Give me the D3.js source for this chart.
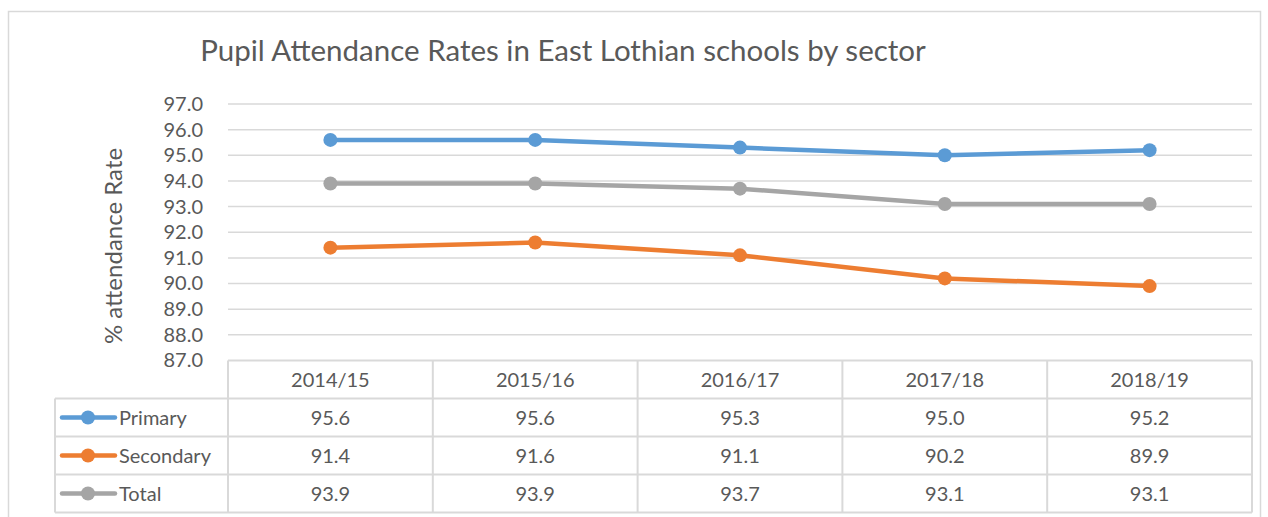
<!DOCTYPE html>
<html>
<head>
<meta charset="utf-8">
<script src="https://cdn.jsdelivr.net/npm/d3@7"></script>
<style>
  body { margin: 0; background: #fff; }
  text { font-family: Lato, "Open Sans", sans-serif; fill: #595959; }
</style>
</head>
<body>
<script>
var years = ["2014/15", "2015/16", "2016/17", "2017/18", "2018/19"];
var primary = [95.6, 95.6, 95.3, 95.0, 95.2];
var secondary = [91.4, 91.6, 91.1, 90.2, 89.9];
var total = [93.9, 93.9, 93.7, 93.1, 93.1];
var yTicks = [87, 88, 89, 90, 91, 92, 93, 94, 95, 96, 97];

var series = [
	{ name: "Primary", values: primary, color: "#5b9bd5" },
	{ name: "Secondary", values: secondary, color: "#ed7d31" },
	{ name: "Total", values: total, color: "#a5a5a5" }
];

var w = 1268, h = 517;
var plotLeft = 228, plotRight = 1252, plotTop = 104, plotBottom = 360.5;
var tableLeft = 55, rowH = 38;

var svg = d3.select("body").append("svg")
	.attr("width", w)
	.attr("height", h);

// outer chart border
svg.append("rect")
	.attr("x", 8.5).attr("y", 11.5)
	.attr("width", 1252).attr("height", 520)
	.attr("fill", "none")
	.attr("stroke", "#d9d9d9")
	.attr("stroke-width", 1.5);

svg.append("text")
	.attr("x", 563).attr("y", 61)
	.attr("text-anchor", "middle")
	.attr("font-size", "29.5px")
	.text("Pupil Attendance Rates in East Lothian schools by sector");

var x = d3.scaleBand().domain(years).range([plotLeft, plotRight]);
var y = d3.scaleLinear().domain([87, 97]).range([plotBottom, plotTop]);

// gridlines
svg.selectAll(".grid")
	.data(yTicks.slice(1))
	.enter()
	.append("line")
	.attr("x1", plotLeft).attr("x2", plotRight)
	.attr("y1", function(d) { return y(d); })
	.attr("y2", function(d) { return y(d); })
	.attr("stroke", "#d9d9d9")
	.attr("stroke-width", 1.5);

var yAxis = svg.append("g")
	.attr("transform", "translate(" + (plotLeft - 22) + ",0)")
	.call(d3.axisLeft(y).tickValues(yTicks).tickFormat(d3.format(".1f")).tickSize(0));
yAxis.select(".domain").remove();
yAxis.selectAll("text")
	.attr("font-size", "20px")
	.style("font-family", "Lato, 'Open Sans', sans-serif")
	.attr("fill", "#595959");

svg.append("text")
	.attr("transform", "translate(122,246) rotate(-90)")
	.attr("text-anchor", "middle")
	.attr("font-size", "24px")
	.text("% attendance Rate");

// lines and markers
var line = d3.line()
	.x(function(d, i) { return x(years[i]) + x.bandwidth() / 2; })
	.y(function(d) { return y(d); });

series.forEach(function(s) {
	svg.append("path")
		.datum(s.values)
		.attr("d", line)
		.attr("fill", "none")
		.attr("stroke", s.color)
		.attr("stroke-width", 4.5)
		.attr("stroke-linejoin", "round");
	svg.selectAll(null)
		.data(s.values)
		.enter()
		.append("circle")
		.attr("cx", function(d, i) { return x(years[i]) + x.bandwidth() / 2; })
		.attr("cy", function(d) { return y(d); })
		.attr("r", 7)
		.attr("fill", s.color);
});

// data table
var tbl = svg.append("g");
var tableBottom = plotBottom + rowH * 4;
var gridStyle = function(sel) {
	return sel.attr("stroke", "#d9d9d9").attr("stroke-width", 2);
};
// horizontal lines
gridStyle(tbl.append("line").attr("x1", plotLeft).attr("x2", plotRight).attr("y1", plotBottom).attr("y2", plotBottom));
for (var r = 1; r <= 4; r++) {
	gridStyle(tbl.append("line").attr("x1", tableLeft).attr("x2", plotRight)
		.attr("y1", plotBottom + rowH * r).attr("y2", plotBottom + rowH * r));
}
// vertical lines
gridStyle(tbl.append("line").attr("x1", tableLeft).attr("x2", tableLeft)
	.attr("y1", plotBottom + rowH).attr("y2", tableBottom));
years.forEach(function(yr) {
	gridStyle(tbl.append("line").attr("x1", x(yr)).attr("x2", x(yr))
		.attr("y1", plotBottom).attr("y2", tableBottom));
});
gridStyle(tbl.append("line").attr("x1", plotRight).attr("x2", plotRight)
	.attr("y1", plotBottom).attr("y2", tableBottom));

tbl.selectAll(".hdr")
	.data(years)
	.enter()
	.append("text")
	.attr("x", function(d) { return x(d) + x.bandwidth() / 2; })
	.attr("y", plotBottom + rowH / 2 + 7)
	.attr("text-anchor", "middle")
	.attr("font-size", "20px")
	.text(function(d) { return d; });

series.forEach(function(s, r) {
	var cy = plotBottom + rowH * (r + 1) + rowH / 2;
	tbl.append("line")
		.attr("x1", tableLeft + 7).attr("x2", tableLeft + 60)
		.attr("y1", cy).attr("y2", cy)
		.attr("stroke", s.color)
		.attr("stroke-width", 4.5)
		.attr("stroke-linecap", "round");
	tbl.append("circle")
		.attr("cx", tableLeft + 33).attr("cy", cy)
		.attr("r", 7)
		.attr("fill", s.color);
	tbl.append("text")
		.attr("x", tableLeft + 64)
		.attr("y", cy + 7)
		.attr("font-size", "20px")
		.text(s.name);
	tbl.selectAll(null)
		.data(s.values)
		.enter()
		.append("text")
		.attr("x", function(d, i) { return x(years[i]) + x.bandwidth() / 2; })
		.attr("y", cy + 7)
		.attr("text-anchor", "middle")
		.attr("font-size", "20px")
		.text(function(d) { return d.toFixed(1); });
});
</script>
</body>
</html>
